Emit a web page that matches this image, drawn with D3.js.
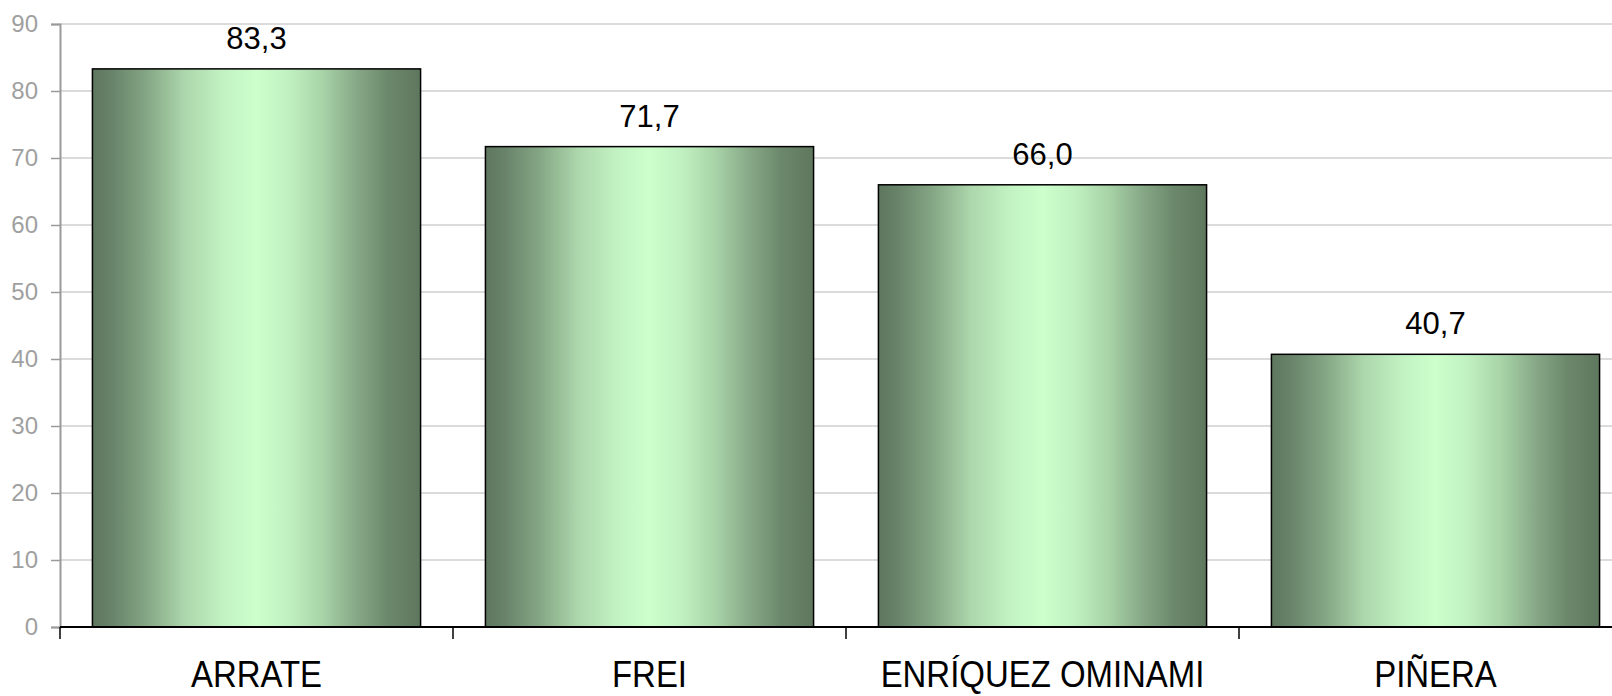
<!DOCTYPE html>
<html>
<head>
<meta charset="utf-8">
<script src="https://cdn.jsdelivr.net/npm/d3@7"></script>
<style>
  html, body { margin: 0; padding: 0; background: #fff; overflow: hidden; }
  svg { display: block; font-family: "Liberation Sans", Arial, sans-serif; }
</style>
</head>
<body>
<svg id="chart" width="1612" height="696"></svg>
<script>
const categories = ["ARRATE", "FREI", "ENRÍQUEZ OMINAMI", "PIÑERA"];
const values = [83.3, 71.7, 66.0, 40.7];
const valueLabels = ["83,3", "71,7", "66,0", "40,7"];
const yTicks = [0, 10, 20, 30, 40, 50, 60, 70, 80, 90];

const svg = d3.select("#chart");
const W = 1612, H = 696;
const mLeft = 60, mTop = 24, mBottom = 627;
const bandW = 393;

const x = d3.scaleBand().domain(categories).range([mLeft, mLeft + bandW * categories.length]).paddingInner(0.165).paddingOuter(0.0825);
const y = d3.scaleLinear().domain([0, 90]).range([mBottom, mTop]);

// gradient
const defs = svg.append("defs");
const grad = defs.append("linearGradient").attr("id", "barGrad").attr("x1", "0%").attr("x2", "100%").attr("y1", "0%").attr("y2", "0%");
[[0, "#5e775e"], [6, "#68836a"], [17, "#86a886"], [28, "#acd6ac"], [40, "#c2f2c2"], [50, "#ccffcc"], [60, "#c0f0c0"], [70, "#a8d4a8"], [80, "#88aa88"], [90, "#6c886c"], [100, "#5e775e"]]
  .forEach(([o, c]) => grad.append("stop").attr("offset", o + "%").attr("stop-color", c));

// gridlines
svg.append("g").selectAll("line").data(yTicks.filter(d => d > 0)).join("line")
  .attr("x1", mLeft).attr("x2", W)
  .attr("y1", d => y(d)).attr("y2", d => y(d))
  .attr("stroke", "#cfcfcf").attr("stroke-width", 1.5);

// y axis
const yAxis = svg.append("g").attr("transform", `translate(${mLeft},0)`)
  .call(d3.axisLeft(y).tickValues(yTicks).tickSize(9).tickPadding(13));
yAxis.select(".domain").attr("stroke", "#9a9a9a").attr("stroke-width", 2);
yAxis.selectAll(".tick line").attr("stroke", "#9a9a9a").attr("stroke-width", 1.5);
yAxis.selectAll(".tick text").attr("fill", "#a0a0a0").style("font-size", "24px").style("font-family", "'Liberation Sans', Arial, sans-serif");

// bars
svg.append("g").selectAll("rect").data(values).join("rect")
  .attr("x", (d, i) => x(categories[i]))
  .attr("width", x.bandwidth())
  .attr("y", d => y(d))
  .attr("height", d => y(0) - y(d))
  .attr("fill", "url(#barGrad)")
  .attr("stroke", "#000").attr("stroke-width", 1.5);

// x axis
const xTickPos = d3.range(categories.length + 1).map(i => mLeft + i * bandW);
svg.append("line").attr("x1", mLeft).attr("x2", W).attr("y1", y(0)).attr("y2", y(0)).attr("stroke", "#000").attr("stroke-width", 2);
svg.append("g").selectAll("line").data(xTickPos).join("line")
  .attr("x1", d => d).attr("x2", d => d).attr("y1", y(0)).attr("y2", y(0) + 12)
  .attr("stroke", "#000").attr("stroke-width", 1.5);

// x labels
svg.append("g").selectAll("text").data(categories).join("text")
  .attr("transform", d => `translate(${x(d) + x.bandwidth() / 2},687) scale(0.89,1)`)
  .attr("text-anchor", "middle")
  .style("font-size", "37px").attr("fill", "#000")
  .text(d => d);

// value labels
svg.append("g").selectAll("text").data(values).join("text")
  .attr("x", (d, i) => x(categories[i]) + x.bandwidth() / 2)
  .attr("y", d => y(d) - 20)
  .attr("text-anchor", "middle")
  .style("font-size", "31px").attr("fill", "#000")
  .text((d, i) => valueLabels[i]);
</script>
</body>
</html>
